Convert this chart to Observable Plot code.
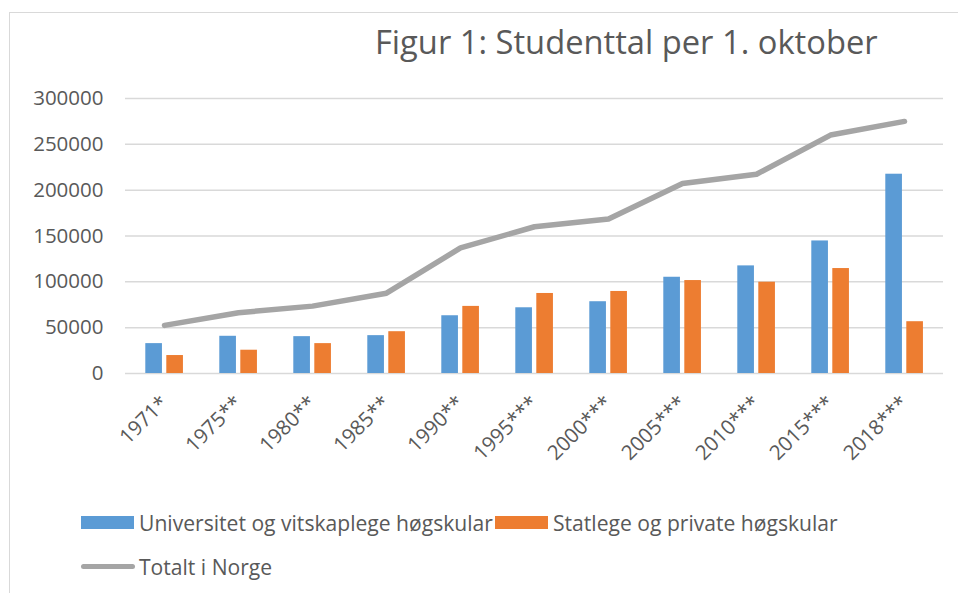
<!DOCTYPE html>
<html>
<head>
<meta charset="utf-8">
<script src="https://cdn.jsdelivr.net/npm/d3@7"></script>
<script src="https://cdn.jsdelivr.net/npm/@observablehq/plot@0.6"></script>
<style>
  html, body { margin: 0; padding: 0; background: #fff; }
  #wrap { position: relative; width: 958px; height: 593px; overflow: hidden; font-family: "Open Sans", sans-serif; color: #595959; }
  #frame { position: absolute; left: 9px; top: 12px; width: 1000px; height: 700px; border-left: 1.5px solid #d9d9d9; border-top: 1.5px solid #d9d9d9; }
  #title { position: absolute; left: 375px; top: 26px; font-size: 32.7px; white-space: nowrap; line-height: 1; }
  #chart { position: absolute; left: 0; top: 0; }
  .leg { position: absolute; font-size: 21.1px; white-space: nowrap; line-height: 1; display: flex; align-items: center; }
  .sw { display: inline-block; width: 53px; height: 13px; margin-right: 5px; }
  .ln { display: inline-block; width: 54px; height: 5px; border-radius: 3px; margin-right: 4px; background: #a5a5a5; }
</style>
</head>
<body>
<div id="wrap">
  <div id="frame"></div>
  <div id="chart"></div>
  <div id="title"></div>
  <div id="legend"></div>
</div>
<script>
const title = "Figur 1: Studenttal per 1. oktober";
const years = ["1971*", "1975**", "1980**", "1985**", "1990**", "1995***", "2000***", "2005***", "2010***", "2015***", "2018***"];
const universitet = [32600, 40600, 40200, 41300, 63000, 71700, 78300, 105000, 117400, 144600, 217400];
const statlege = [19600, 25400, 32600, 45600, 73200, 87300, 89500, 101400, 99600, 114500, 56500];
const totalt = [52500, 66300, 73500, 87600, 137000, 160100, 168500, 207200, 217400, 260100, 275000];
const seriesNames = ["Universitet og vitskaplege høgskular", "Statlege og private høgskular", "Totalt i Norge"];
const colors = ["#5b9bd5", "#ed7d31", "#a5a5a5"];
const yTicks = [0, 50000, 100000, 150000, 200000, 250000, 300000];

const uniData = years.map((y, i) => ({year: y, value: universitet[i]}));
const statData = years.map((y, i) => ({year: y, value: statlege[i]}));
const totData = years.map((y, i) => ({year: y, value: totalt[i]}));

const bandW = (943 - 125) / years.length;

const chart = Plot.plot({
  width: 958,
  height: 500,
  marginLeft: 125,
  marginRight: 15,
  marginTop: 98,
  marginBottom: 127,
  style: {fontFamily: "Open Sans", fontSize: "20.5px", color: "#595959", background: "transparent"},
  x: {domain: years, padding: 0, label: null},
  y: {domain: [0, 300000], label: null},
  marks: [
    Plot.gridY(yTicks, {stroke: "#d9d9d9", strokeOpacity: 1, strokeWidth: 1.5}),
    Plot.axisY(yTicks, {tickSize: 0, tickPadding: 22, tickFormat: d => String(d), fill: "#595959", label: null}),
    Plot.axisX({tickSize: 0, tickPadding: 26, tickRotate: -45, fill: "#595959", label: null}),
    Plot.barY(uniData, {x: "year", y: "value", fill: colors[0], insetLeft: 18.3, insetRight: bandW - 35.3}),
    Plot.barY(statData, {x: "year", y: "value", fill: colors[1], insetLeft: 39.3, insetRight: bandW - 56.3}),
    Plot.line(totData, {x: "year", y: "value", stroke: colors[2], strokeWidth: 5.5, strokeLinecap: "round", strokeLinejoin: "round"})
  ]
});
document.getElementById("chart").appendChild(chart);
document.getElementById("title").textContent = title;

const legend = document.getElementById("legend");
const items = [
  {left: 81, top: 512, kind: "sw", i: 0},
  {left: 495, top: 512, kind: "sw", i: 1},
  {left: 81, top: 556, kind: "ln", i: 2}
];
for (const it of items) {
  const d = document.createElement("div");
  d.className = "leg";
  d.style.left = it.left + "px";
  d.style.top = it.top + "px";
  const s = document.createElement("span");
  s.className = it.kind;
  if (it.kind === "sw") s.style.background = colors[it.i];
  d.appendChild(s);
  const t = document.createElement("span");
  t.textContent = seriesNames[it.i];
  d.appendChild(t);
  legend.appendChild(d);
}
</script>
</body>
</html>
